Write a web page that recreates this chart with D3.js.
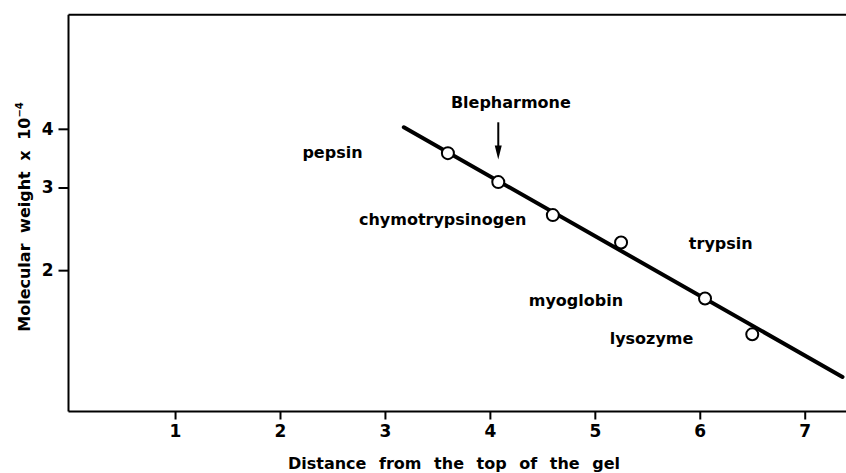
<!DOCTYPE html>
<html><head><meta charset="utf-8">
<script src="https://cdn.jsdelivr.net/npm/d3@7"></script>
<style>
html,body{margin:0;padding:0;background:#fff;}
svg{display:block;}
text{font-family:"DejaVu Sans",sans-serif;font-weight:bold;fill:#000;}
</style></head>
<body><svg id="c" width="846" height="473"></svg>
<script>
// ---- data ----
const proteins = ["pepsin","Blepharmone","chymotrypsinogen","trypsin","myoglobin","lysozyme"];
const distance = [3.60, 4.08, 4.60, 5.25, 6.05, 6.50];
const molWeight = [3.55, 3.08, 2.62, 2.29, 1.74, 1.46];
const fitX = [3.18, 7.36];
const fitY = [4.03, 1.185];
const xTicks = [1,2,3,4,5,6,7];
const yTicks = [2,3,4];
const labelNames = ["pepsin","chymotrypsinogen","trypsin","myoglobin","lysozyme","Blepharmone"];
const labelX = [2.50, 3.55, 6.20, 4.82, 5.54, 4.20];
const labelY = [3.46, 2.49, 2.22, 1.68, 1.39, 4.44];
const arrowX = 4.08, arrowY = [4.13, 3.44];

// ---- layout ----
const svg = d3.select("#c");
const x = d3.scaleLinear().domain([0, 7.4]).range([70.1, 846.7]);
const y = d3.scaleLog().domain([1, 7]).range([411.5, 14.7]);
const pLeft = 68.5, pTop = 14.7, pBottom = 411.5;

// frame: top border
svg.append("line").attr("x1", pLeft).attr("x2", 846).attr("y1", pTop).attr("y2", pTop)
  .attr("stroke","#000").attr("stroke-width",2);

// x axis
const xAxis = svg.append("g").attr("transform",`translate(0,${pBottom})`)
  .call(d3.axisBottom(x).tickValues(xTicks).tickFormat(d3.format("d")).tickSize(8).tickPadding(5));
xAxis.select(".domain").attr("d", `M${pLeft},0H846`).attr("stroke-width",2);
xAxis.selectAll(".tick line").attr("stroke-width",2);
xAxis.selectAll("text").attr("font-size",17).attr("font-family","DejaVu Sans").attr("font-weight","bold");

// y axis
const yAxis = svg.append("g").attr("transform",`translate(${pLeft},0)`)
  .call(d3.axisLeft(y).tickValues(yTicks).tickFormat(d3.format("d")).tickSize(10).tickPadding(5));
yAxis.select(".domain").attr("d", `M0,${pTop}V${pBottom}`).attr("stroke-width",2);
yAxis.selectAll(".tick line").attr("stroke-width",2);
yAxis.selectAll("text").attr("font-size",17).attr("font-family","DejaVu Sans").attr("font-weight","bold");

// axis titles
svg.append("text").attr("x",454).attr("y",469).attr("text-anchor","middle")
  .attr("font-size",16).style("word-spacing","7px").text("Distance from the top of the gel");
const yt = svg.append("text").attr("transform","translate(30,217) rotate(-90)")
  .attr("text-anchor","middle").attr("font-size",16).style("word-spacing","5px");
yt.append("tspan").text("Molecular weight x 10");
yt.append("tspan").attr("font-size",10).attr("dy",-7).text("\u22124");

// fit line
svg.append("path").datum(fitX.map((d,i)=>[d,fitY[i]]))
  .attr("d", d3.line().x(d=>x(d[0])).y(d=>y(d[1])))
  .attr("stroke","#000").attr("stroke-width",4).attr("fill","none").attr("stroke-linecap","round");

// points
svg.selectAll("circle.pt").data(distance).join("circle").attr("class","pt")
  .attr("cx",(d)=>x(d)).attr("cy",(d,i)=>y(molWeight[i])).attr("r",6)
  .attr("fill","#fff").attr("stroke","#000").attr("stroke-width",2);

// labels
svg.selectAll("text.lab").data(labelNames).join("text").attr("class","lab")
  .attr("x",(d,i)=>x(labelX[i])).attr("y",(d,i)=>y(labelY[i]))
  .attr("text-anchor","middle").attr("font-size",16).text(d=>d);

// arrow
const ax = x(arrowX), ay0 = y(arrowY[0]), ay1 = y(arrowY[1]);
svg.append("line").attr("x1",ax).attr("x2",ax).attr("y1",ay0).attr("y2",ay1-8)
  .attr("stroke","#000").attr("stroke-width",2);
svg.append("path").attr("d",`M${ax-3.5},${ay1-14}L${ax+3.5},${ay1-14}L${ax},${ay1}Z`).attr("fill","#000");
</script></body></html>
